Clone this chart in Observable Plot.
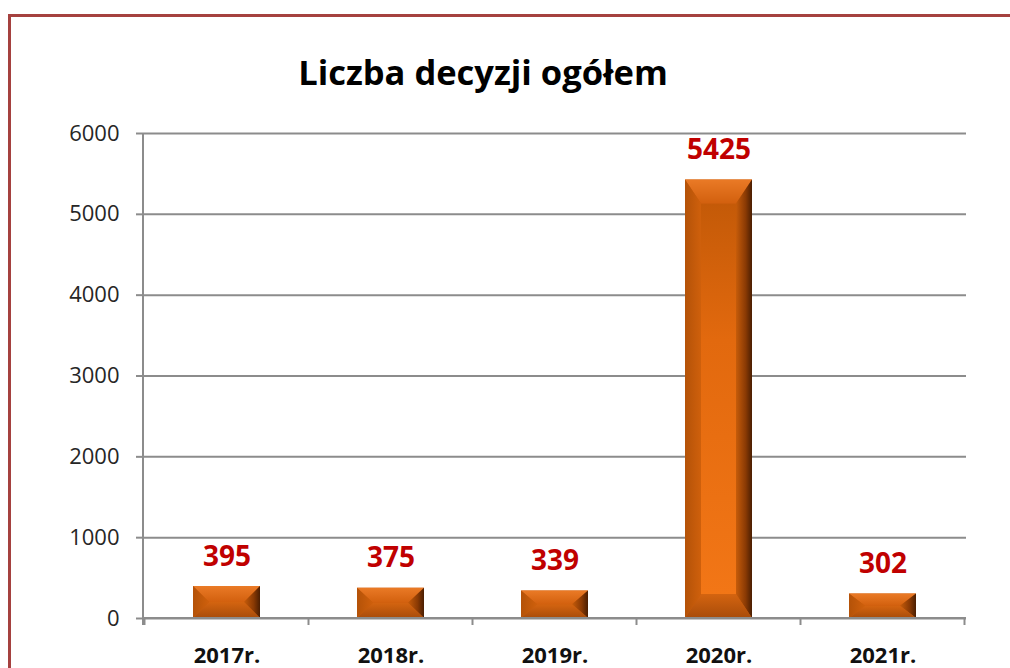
<!DOCTYPE html>
<html>
<head>
<meta charset="utf-8">
<script src="https://cdn.jsdelivr.net/npm/d3@7"></script>
<script src="https://cdn.jsdelivr.net/npm/@observablehq/plot@0.6"></script>
<style>
  html, body { margin: 0; padding: 0; background: #fff; width: 1010px; height: 668px; overflow: hidden; }
  #frame { position: absolute; left: 8px; top: 14px; width: 1200px; height: 800px;
           border-top: 3px solid #a5413f; border-left: 3px solid #a5413f; box-sizing: border-box; }
  #title { position: absolute; left: 0; top: 50px; width: 966px; text-align: center;
           font-family: "Open Sans", sans-serif; font-weight: bold; font-size: 34.5px; line-height: 44px; color: #000; }
  #chart { position: absolute; left: 0; top: 110px; }
</style>
</head>
<body>
<div id="frame"></div>
<div id="title">Liczba decyzji ogółem</div>
<div id="chart"></div>
<script>
const years = ["2017r.", "2018r.", "2019r.", "2020r.", "2021r."];
const counts = [395, 375, 339, 5425, 302];
const yTicks = [0, 1000, 2000, 3000, 4000, 5000, 6000];

const data = years.map((year, i) => ({year, count: counts[i]}));

const GRID = "#8c8c8c";

function bevelRender(index, scales, values, dim) {
  const g = d3.create("svg:g");
  const defs = g.append("defs");
  const grad = (id, x2, y2, stops) => {
    const lg = defs.append("linearGradient").attr("id", id)
      .attr("x1", 0).attr("y1", 0).attr("x2", x2).attr("y2", y2);
    stops.forEach(([o, c]) => lg.append("stop").attr("offset", o).attr("stop-color", c));
  };
  grad("gFace", 0, 1, [[0, "#c45a08"], [0.35, "#e2690e"], [1, "#f27616"]]);
  grad("gTop", 0, 1, [[0, "#ea7a26"], [1, "#d2600e"]]);
  grad("gLeft", 1, 0, [[0, "#b45208"], [1, "#cf600c"]]);
  grad("gRight", 1, 0, [[0, "#c65c0a"], [0.6, "#8a3a04"], [1, "#4a1e02"]]);
  grad("gBottom", 0, 1, [[0, "#d46410"], [1, "#a84c0a"]]);
  const step = scales.x(years[1]) - scales.x(years[0]);
  const bw = scales.x.bandwidth ? scales.x.bandwidth() : step * 0.41;
  const y0 = scales.y(0);
  for (const i of index) {
    const d = data[i];
    const x = scales.x(d.year), w = bw;
    const y = scales.y(d.count), h = y0 - y;
    const dx = Math.min(16, w / 2), dy = Math.min(24, h / 2);
    const A = [x, y], B = [x + w, y], C = [x + w, y + h], D = [x, y + h];
    const a = [x + dx, y + dy], b = [x + w - dx, y + dy], c = [x + w - dx, y + h - dy], dd = [x + dx, y + h - dy];
    const poly = (pts, fill) => g.append("polygon").attr("points", pts.map(p => p.join(",")).join(" ")).attr("fill", fill);
    poly([A, B, C, D], "#c85a0c");
    poly([a, b, c, dd], "url(#gFace)");
    poly([A, B, b, a], "url(#gTop)");
    poly([B, C, c, b], "url(#gRight)");
    poly([D, C, c, dd], "url(#gBottom)");
    poly([A, D, dd, a], "url(#gLeft)");
  }
  return g.node();
}

function axisLinesRender(index, scales, values, dim) {
  const g = d3.create("svg:g").attr("stroke", GRID).attr("stroke-width", 2);
  const y0 = scales.y(0);
  const x0 = dim.marginLeft, x1 = dim.width - dim.marginRight;
  g.append("line").attr("x1", x0).attr("x2", x0).attr("y1", dim.marginTop).attr("y2", y0 + 7);
  g.append("line").attr("x1", x0).attr("x2", x1).attr("y1", y0).attr("y2", y0);
  const step = scales.x(years[1]) - scales.x(years[0]);
  const bw = scales.x.bandwidth ? scales.x.bandwidth() : step * 0.41;
  const centers = years.map(c => scales.x(c) + bw / 2);
  const bounds = centers.map(c => c - step / 2).concat([centers[centers.length - 1] + step / 2]);
  for (const bx of bounds) {
    g.append("line").attr("x1", bx).attr("x2", bx).attr("y1", y0).attr("y2", y0 + 7);
  }
  return g.node();
}

const chart = Plot.plot({
  width: 1010,
  height: 558,
  marginTop: 23,
  marginBottom: 50,
  marginLeft: 143,
  marginRight: 44,
  style: {fontFamily: "'Open Sans', sans-serif", background: "transparent"},
  x: {domain: years, paddingInner: 0.59, paddingOuter: 0.295},
  y: {domain: [0, 6000]},
  marks: [
    Plot.gridY(yTicks, {stroke: GRID, strokeOpacity: 1, strokeWidth: 2}),
    Plot.axisY(yTicks, {tickSize: 7, tickPadding: 17, fontSize: 22, stroke: GRID, strokeWidth: 2, fill: "#262626", tickFormat: d => String(d), label: null}),
    Plot.axisX({tickSize: 0, tickPadding: 29, fontSize: 22, fontWeight: "bold", fill: "#111", label: null}),
    Plot.barY(data, {x: "year", y: "count", render: bevelRender}),
    Plot.ruleY([0], {render: axisLinesRender}),
    Plot.text(data, {x: "year", y: "count", text: d => String(d.count), dy: -30, fontSize: 28, fontWeight: "bold", fill: "#c00000"})
  ]
});
document.getElementById("chart").appendChild(chart);
</script>
</body>
</html>
